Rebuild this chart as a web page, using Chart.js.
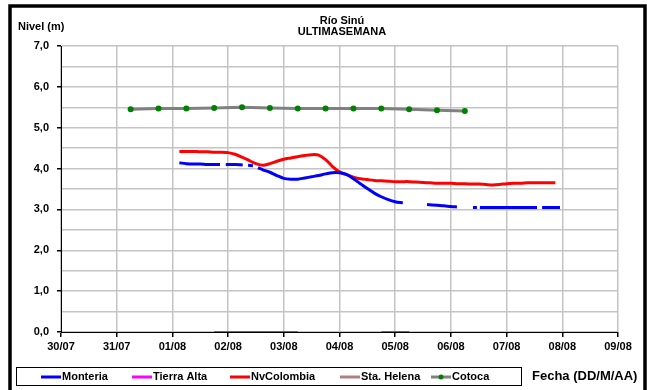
<!DOCTYPE html>
<html>
<head>
<meta charset="utf-8">
<script src="https://cdn.jsdelivr.net/npm/chart.js@4.4.1/dist/chart.umd.min.js"></script>
<style>
  html, body { margin: 0; padding: 0; background: #fff; }
  canvas { display: block; }
</style>
</head>
<body>
<canvas id="chart" width="647" height="390"></canvas>
<script>
// Eje X en horas desde 30/07 00:00
const xTickHours = [0, 24, 48, 72, 96, 120, 144, 168, 192, 216, 240];
const xTickLabels = ['30/07', '31/07', '01/08', '02/08', '03/08', '04/08', '05/08', '06/08', '07/08', '08/08', '09/08'];

// Monteria (null = sin dato)
const monteriaHours = [51, 54, 57, 60, 63, 66, 68.5, 69.5, 71, 75, 78.3, 79.5, 80.6, 82.7, 83.8, 84.9, 87, 90, 93, 96,
    99, 102, 105, 108, 111, 114, 117, 120, 123, 126, 129, 132, 135, 138, 141, 144, 147.3, 152, 157.7, 162,
    165, 168, 170.6, 174, 177.5, 179.2, 179.8, 180.5, 186, 192, 198, 205.1, 206, 207.3, 215];
const monteria = [4.14, 4.12, 4.11, 4.11, 4.10, 4.10, 4.10, null, 4.10, 4.10, 4.09, null, 4.08, 4.07, null, 4.02, 3.97, 3.91, 3.83, 3.76,
    3.74, 3.74, 3.77, 3.80, 3.83, 3.87, 3.90, 3.90, 3.86, 3.75, 3.63, 3.51, 3.40, 3.31, 3.24, 3.19, 3.16, null, 3.12, 3.10,
    3.09, 3.07, 3.06, null, 3.05, 3.05, null, 3.05, 3.05, 3.05, 3.05, 3.05, null, 3.05, 3.05];

// NvColombia
const nvHours = [51, 54, 57, 60, 63, 66, 69, 72, 75, 78, 81, 84, 87, 90, 93, 96, 99, 102, 105, 108,
    111, 114, 117, 120, 123, 126, 129, 132, 135, 138, 141, 144, 147, 150, 153, 156, 159, 162, 165, 168,
    171, 174, 177, 180, 183, 186, 189, 192, 195, 198, 201, 204, 207, 210, 213];
const nvColombia = [4.42, 4.42, 4.42, 4.41, 4.41, 4.40, 4.40, 4.39, 4.35, 4.28, 4.20, 4.12, 4.08, 4.12, 4.18, 4.23, 4.26, 4.29, 4.32, 4.34,
    4.33, 4.22, 4.05, 3.92, 3.85, 3.79, 3.75, 3.73, 3.71, 3.70, 3.69, 3.68, 3.68, 3.68, 3.67, 3.66, 3.65, 3.64, 3.64, 3.64,
    3.63, 3.63, 3.62, 3.62, 3.61, 3.60, 3.61, 3.63, 3.64, 3.64, 3.65, 3.65, 3.65, 3.65, 3.65];

// Tierra Alta y Sta. Helena (en cero)
const lowHours = [66, 72, 78, 84, 90, 96, 102, 120, 138, 144, 150];
const tierraAlta = [0, 0, 0, 0, 0, 0, 0, null, 0, 0, 0];
const staHelena = [0, 0, 0, 0, 0, 0, 0, null, 0, 0, 0];

// Cotoca cada 12 horas
const cotocaHours = [30, 42, 54, 66, 78, 90, 102, 114, 126, 138, 150, 162, 174];
const cotoca = [5.45, 5.47, 5.47, 5.48, 5.50, 5.48, 5.47, 5.47, 5.47, 5.47, 5.45, 5.43, 5.41];

const FONT = "'Liberation Sans', Arial, sans-serif";

function pairs(xs, ys) {
    return xs.map((x, i) => ({ x: x, y: ys[i] }));
}

// Marco, títulos y leyenda
const decoPlugin = {
    id: 'deco',
    afterDraw(chart) {
        const ctx = chart.ctx;
        ctx.save();
        ctx.strokeStyle = '#000';
        ctx.lineWidth = 3.5;
        ctx.strokeRect(10, 6, 635, 400);

        ctx.fillStyle = '#000';
        ctx.font = 'bold 11px ' + FONT;
        ctx.textBaseline = 'middle';
        ctx.textAlign = 'center';
        ctx.fillText('Río Sinú', 342, 21);
        ctx.fillText('ULTIMASEMANA', 342, 32);
        ctx.textAlign = 'left';
        ctx.fillText('Nivel (m)', 18, 27);

        ctx.font = 'bold 13px ' + FONT;
        ctx.fillText('Fecha (DD/M/AA)', 532, 376);

        // leyenda
        ctx.lineWidth = 1;
        ctx.strokeStyle = '#000';
        ctx.strokeRect(16.5, 367.5, 505, 18);
        const starts = [41, 132, 230, 340, 431];
        ctx.font = 'bold 11px ' + FONT;
        chart.data.datasets.forEach((ds, i) => {
            const x0 = starts[i];
            ctx.strokeStyle = ds.borderColor;
            ctx.lineWidth = 3;
            ctx.beginPath();
            ctx.moveTo(x0, 377);
            ctx.lineTo(x0 + 20, 377);
            ctx.stroke();
            if (ds.pointRadius > 0) {
                ctx.fillStyle = ds.pointBackgroundColor;
                ctx.beginPath();
                ctx.arc(x0 + 10, 377, 2.5, 0, Math.PI * 2);
                ctx.fill();
            }
            ctx.fillStyle = '#000';
            ctx.fillText(ds.label, x0 + 21, 377);
        });
        ctx.restore();
    }
};

new Chart(document.getElementById('chart'), {
    type: 'line',
    data: {
        datasets: [
            {
                label: 'Monteria',
                data: pairs(monteriaHours, monteria),
                borderColor: '#0000ff',
                borderWidth: 3,
                pointRadius: 0,
                tension: 0.3
            },
            {
                label: 'Tierra Alta',
                data: pairs(lowHours, tierraAlta),
                borderColor: '#ff00ff',
                borderWidth: 2,
                pointRadius: 0
            },
            {
                label: 'NvColombia',
                data: pairs(nvHours, nvColombia),
                borderColor: '#ff0000',
                borderWidth: 3,
                pointRadius: 0,
                tension: 0.3
            },
            {
                label: 'Sta. Helena',
                data: pairs(lowHours, staHelena),
                borderColor: '#b08080',
                borderWidth: 2,
                pointRadius: 0
            },
            {
                label: 'Cotoca',
                data: pairs(cotocaHours, cotoca),
                borderColor: '#808080',
                borderWidth: 3,
                pointRadius: 3,
                pointBackgroundColor: '#008000',
                pointBorderColor: '#008000',
                pointBorderWidth: 0
            }
        ]
    },
    options: {
        responsive: false,
        animation: false,
        spanGaps: false,
        layout: { padding: { top: 46, right: 29, bottom: 34, left: 0 } },
        plugins: {
            legend: { display: false },
            title: { display: false },
            tooltip: { enabled: false }
        },
        scales: {
            x: {
                type: 'linear',
                min: 0,
                max: 240,
                afterBuildTicks: axis => { axis.ticks = xTickHours.map(v => ({ value: v })); },
                afterFit: axis => { axis.height = 24; },
                ticks: {
                    callback: (v, i) => xTickLabels[i],
                    font: { family: FONT, size: 11, weight: 'bold' },
                    color: '#000',
                    maxRotation: 0,
                    autoSkip: false,
                    padding: 3
                },
                grid: { color: '#c4c4c4', lineWidth: 1.5, tickLength: 5, tickColor: '#000' },
                border: { color: '#000', width: 1 }
            },
            y: {
                min: 0,
                max: 7,
                afterFit: axis => { axis.width = 61; },
                ticks: {
                    stepSize: 0.5,
                    callback: v => Number.isInteger(v) ? v.toFixed(1).replace('.', ',') : '',
                    font: { family: FONT, size: 11, weight: 'bold' },
                    color: '#000',
                    padding: 8
                },
                grid: {
                    color: '#c4c4c4',
                    lineWidth: 1.5,
                    tickLength: 4,
                    tickColor: c => Number.isInteger(c.tick.value) ? '#000' : 'rgba(0,0,0,0)'
                },
                border: { color: '#000', width: 1 }
            }
        }
    },
    plugins: [decoPlugin]
});
</script>
</body>
</html>
